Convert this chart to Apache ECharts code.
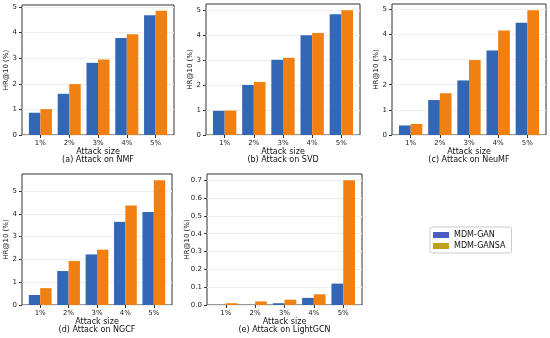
<!DOCTYPE html>
<html>
<head>
<meta charset="utf-8">
<script src="https://cdn.jsdelivr.net/npm/echarts@6/dist/echarts.min.js"></script>
<style>html,body{margin:0;padding:0;background:#fff}#c{width:550px;height:338px}</style>
</head>
<body>
<div id="c"></div>
<script>
// ---- data ----
const categories = ['1%', '2%', '3%', '4%', '5%'];
const seriesNames = ['MDM-GAN', 'MDM-GANSA'];
const panelTitles = ['(a) Attack on NMF', '(b) Attack on SVD', '(c) Attack on NeuMF', '(d) Attack on NGCF', '(e) Attack on LightGCN'];
const NMF_GAN = [0.87, 1.61, 2.82, 3.79, 4.68];
const NMF_GANSA = [1.01, 1.99, 2.95, 3.94, 4.86];
const SVD_GAN = [0.97, 2.01, 3.02, 4.01, 4.85];
const SVD_GANSA = [0.98, 2.13, 3.10, 4.10, 5.01];
const NeuMF_GAN = [0.38, 1.39, 2.17, 3.36, 4.46];
const NeuMF_GANSA = [0.44, 1.66, 2.98, 4.16, 4.96];
const NGCF_GAN = [0.44, 1.49, 2.22, 3.65, 4.08];
const NGCF_GANSA = [0.74, 1.93, 2.43, 4.37, 5.48];
const LightGCN_GAN = [0, 0, 0.01, 0.04, 0.12];
const LightGCN_GANSA = [0.01, 0.02, 0.03, 0.06, 0.70];
const yTicksMain = [0, 1, 2, 3, 4, 5];
const yTicksLight = [0, 0.1, 0.2, 0.3, 0.4, 0.5, 0.6, 0.7];

// ---- layout ----
const FONT = 'DejaVu Sans';
const panels = [
  {gan: NMF_GAN, gansa: NMF_GANSA, left: 22, top: 5, width: 152, height: 130, ymax: 5.08, ticks: yTicksMain, interval: 1, dec: 0, ytx: 6},
  {gan: SVD_GAN, gansa: SVD_GANSA, left: 206, top: 4, width: 154, height: 131, ymax: 5.26, ticks: yTicksMain, interval: 1, dec: 0, ytx: 190},
  {gan: NeuMF_GAN, gansa: NeuMF_GANSA, left: 392, top: 4, width: 154, height: 131, ymax: 5.21, ticks: yTicksMain, interval: 1, dec: 0, ytx: 376},
  {gan: NGCF_GAN, gansa: NGCF_GANSA, left: 22, top: 174, width: 150, height: 131, ymax: 5.75, ticks: yTicksMain, interval: 1, dec: 0, ytx: 6},
  {gan: LightGCN_GAN, gansa: LightGCN_GANSA, left: 207, top: 174, width: 155, height: 131, ymax: 0.735, ticks: yTicksLight, interval: 0.1, dec: 1, ytx: 187}
];
const COL_GAN = '#3267b5';
const COL_GANSA = '#f08012';
const xVals = categories.map((c, i) => i + 1);

const grid = [], xAxis = [], yAxis = [], series = [], graphic = [];
panels.forEach((p, i) => {
  grid.push({left: p.left, top: p.top, width: p.width, height: p.height, show: true,
    borderColor: '#333', borderWidth: 1, backgroundColor: 'transparent', containLabel: false});
  xAxis.push({type: 'value', gridIndex: i, min: 0.36, max: 5.64,
    axisLine: {show: false},
    axisTick: {show: true, length: 3, lineStyle: {color: '#333'}, customValues: xVals},
    axisLabel: {customValues: xVals, margin: 5, fontSize: 7, color: '#222', fontFamily: FONT,
      formatter: v => categories[Math.round(v) - 1] || ''},
    splitLine: {show: false},
    name: 'Attack size', nameLocation: 'middle', nameGap: 13,
    nameTextStyle: {fontSize: 8, color: '#111', fontFamily: FONT}
  });
  yAxis.push({type: 'value', gridIndex: i, min: 0, max: p.ymax, interval: p.interval,
    axisLine: {show: false},
    axisTick: {show: true, length: 3, lineStyle: {color: '#333'}, customValues: p.ticks},
    axisLabel: {customValues: p.ticks, margin: 5, fontSize: 7, color: '#222', fontFamily: FONT,
      formatter: v => Number(v).toFixed(p.dec)},
    splitLine: {show: true, lineStyle: {color: '#eeeeee', width: 1}}
  });
  graphic.push({type: 'text', left: p.ytx - 4, top: p.top + p.height / 2 - 18, rotation: Math.PI / 2,
    style: {text: 'HR@10 (%)', fontSize: 7, fontFamily: FONT, fill: '#111', textAlign: 'center', textVerticalAlign: 'middle'},
    x: p.ytx, y: p.top + p.height / 2, left: null, top: null});
  graphic.push({type: 'text', x: p.left + p.width / 2, y: p.top + p.height + 25,
    style: {text: panelTitles[i], fontSize: 8, fontFamily: FONT, fill: '#111', textAlign: 'center', textVerticalAlign: 'middle'}});
  series.push({type: 'bar', name: seriesNames[0], xAxisIndex: i, yAxisIndex: i, barWidth: '40%', barGap: '0%',
    itemStyle: {color: COL_GAN}, data: xVals.map((x, k) => [x, p.gan[k]])});
  series.push({type: 'bar', name: seriesNames[1], xAxisIndex: i, yAxisIndex: i, barWidth: '40%', barGap: '0%',
    itemStyle: {color: COL_GANSA}, data: xVals.map((x, k) => [x, p.gansa[k]])});
});

const chart = echarts.init(document.getElementById('c'), null, {renderer: 'canvas'});
chart.setOption({
  animation: false,
  textStyle: {fontFamily: FONT},
  grid, xAxis, yAxis, series, graphic,
  legend: {
    orient: 'vertical', left: 430, top: 227, padding: [4, 6, 3, 3],
    icon: 'rect', itemWidth: 16, itemHeight: 6, itemGap: 3,
    borderColor: '#ccc', borderWidth: 1, borderRadius: 2,
    textStyle: {fontSize: 8, color: '#111', fontFamily: FONT},
    data: [
      {name: seriesNames[0], itemStyle: {color: '#4a5cc0'}},
      {name: seriesNames[1], itemStyle: {color: '#c0a020'}}
    ]
  }
});
</script>
</body>
</html>
